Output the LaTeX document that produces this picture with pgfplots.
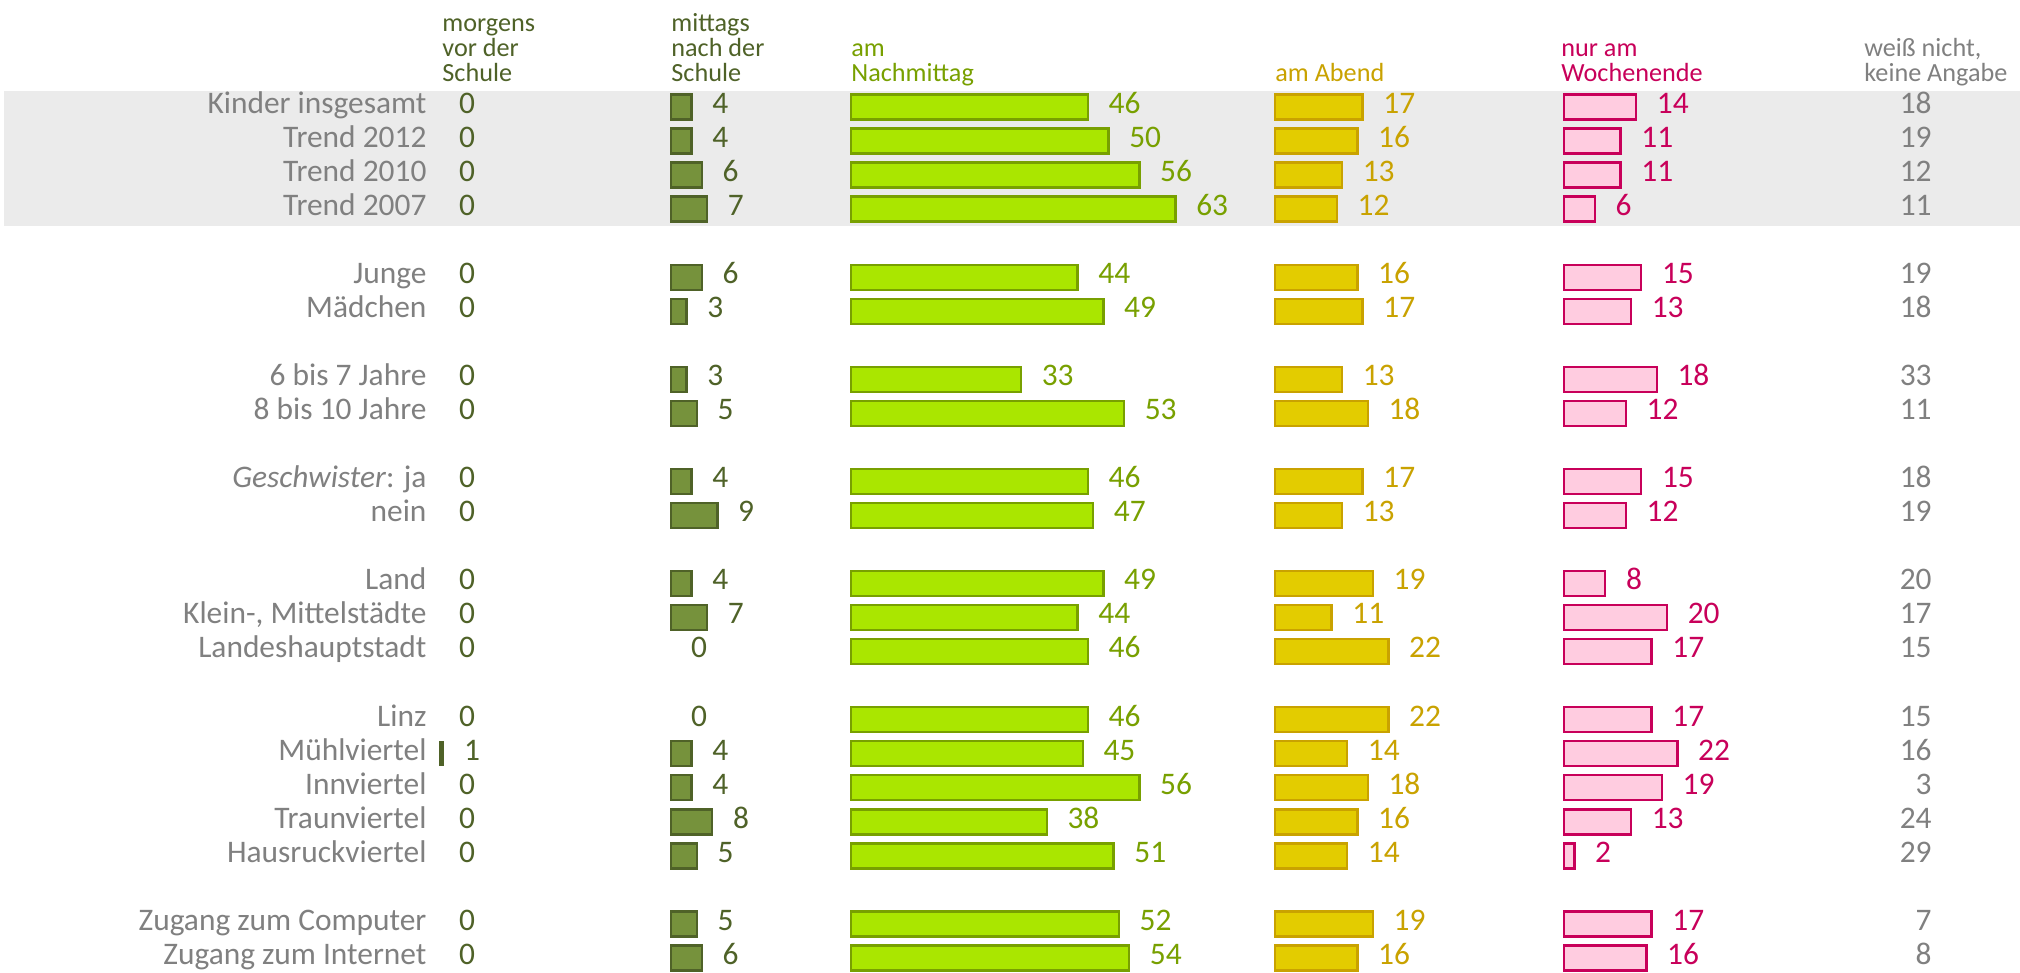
\documentclass[border=0pt]{standalone}
\usepackage{fontspec}
\setmainfont{Carlito}
\usepackage{pgfplots}
\usepackage{pgfplotstable}
\pgfplotsset{compat=1.18}

\definecolor{olivedark}{HTML}{4F6228}
\definecolor{olivemid}{HTML}{76923C}
\definecolor{limefill}{HTML}{AAE600}
\definecolor{limeline}{HTML}{78A000}
\definecolor{yellowfill}{HTML}{E3CC00}
\definecolor{yellowline}{HTML}{C9A200}
\definecolor{pinkfill}{HTML}{FFCCE0}
\definecolor{pinkline}{HTML}{C8005A}
\definecolor{labelgray}{HTML}{808080}
\definecolor{bandgray}{HTML}{EBEBEB}

% slot = row position (empty slots separate the groups)
\pgfplotstableread{
slot mo mi na ab wo wn
0  0 4 46 17 14 18
1  0 4 50 16 11 19
2  0 6 56 13 11 12
3  0 7 63 12  6 11
5  0 6 44 16 15 19
6  0 3 49 17 13 18
8  0 3 33 13 18 33
9  0 5 53 18 12 11
11 0 4 46 17 15 18
12 0 9 47 13 12 19
14 0 4 49 19  8 20
15 0 7 44 11 20 17
16 0 0 46 22 17 15
18 0 0 46 22 17 15
19 1 4 45 14 22 16
20 0 4 56 18 19  3
21 0 8 38 16 13 24
22 0 5 51 14  2 29
24 0 5 52 19 17  7
25 0 6 54 16 16  8
}\data

\newcommand{\txt}{\fontsize{15.7}{18}\selectfont}
\newcommand{\hdr}{\fontsize{13.1}{13}\selectfont}

\pgfplotsset{
  col/.style={
    scale only axis, width=25.75pt, height=442.5pt,
    xmin=0, xmax=10, ymin=-0.5, ymax=25.5, y dir=reverse,
    clip=false, axis line style={draw=none}, tick style={draw=none},
    xtick=\empty, ytick=\empty, anchor=north west,
    /pgf/number format/assume math mode=true,
  },
  barcol/.style={col, xbar, bar width=12.5pt, bar shift=0pt,
    nodes near coords,
    every node near coord/.append style={anchor=west, inner sep=0pt,
      xshift=9.8pt, font=\txt, text height=0.63em, text depth=0pt, text=#1},
  },
}
\tikzset{hd/.style={anchor=base west, inner sep=0pt, font=\hdr, text=#1}}

\begin{document}
\begin{tikzpicture}
\useasboundingbox (0,0) rectangle (1010pt,486.5pt);
\fill[white] (0,0) rectangle (1010pt,486.5pt);
\fill[bandgray] (2pt,373.5pt) rectangle (1010pt,441pt);

% morgens vor der Schule (with row labels)
\begin{axis}[barcol=olivedark, at={(219.5pt,441.5pt)},
  ytick={0,1,2,3,5,6,8,9,11,12,14,15,16,18,19,20,21,22,24,25},
  yticklabels={Kinder insgesamt, Trend 2012, Trend 2010, Trend 2007,
    Junge, Mädchen, 6 bis 7 Jahre, 8 bis 10 Jahre,
    {\textit{Geschwister}: ja}, nein,
    Land, {Klein-, Mittelstädte}, Landeshauptstadt,
    Linz, Mühlviertel, Innviertel, Traunviertel, Hausruckviertel,
    Zugang zum Computer, Zugang zum Internet},
  yticklabel style={anchor=east, inner sep=0pt, xshift=-1.8pt, font=\txt,
    text=labelgray, text height=0.63em, text depth=0pt}]
\addplot[fill=olivedark, draw=none, restrict x to domain=0.5:100]
  table[x=mo, y=slot]{\data};
\addplot[draw=none, fill=none, restrict x to domain=-0.5:0.5]
  table[x=mo, y=slot]{\data};
\end{axis}

% mittags nach der Schule
\begin{axis}[barcol=olivedark, at={(335.5pt,441.5pt)}]
\addplot[fill=olivemid, draw=olivedark, line width=1.2pt, restrict x to domain=0.5:100]
  table[x=mi, y=slot]{\data};
\addplot[draw=none, fill=none, restrict x to domain=-0.5:0.5]
  table[x=mi, y=slot]{\data};
\end{axis}

% am Nachmittag
\begin{axis}[barcol=limeline, at={(425.5pt,441.5pt)}]
\addplot[fill=limefill, draw=limeline, line width=1.2pt]
  table[x=na, y=slot]{\data};
\end{axis}

% am Abend
\begin{axis}[barcol=yellowline, at={(637.5pt,441.5pt)}]
\addplot[fill=yellowfill, draw=yellowline, line width=1.2pt]
  table[x=ab, y=slot]{\data};
\end{axis}

% nur am Wochenende
\begin{axis}[barcol=pinkline, at={(782pt,441.5pt)}]
\addplot[fill=pinkfill, draw=pinkline, line width=1.2pt]
  table[x=wo, y=slot]{\data};
\end{axis}

% weiss nicht, keine Angabe
\begin{axis}[col, at={(966pt,441.5pt)}]
\addplot[draw=none, nodes near coords, point meta=explicit,
  every node near coord/.append style={anchor=east, inner sep=0pt, font=\txt,
    text=labelgray, text height=0.63em, text depth=0pt}]
  table[x expr=0, y=slot, meta=wn]{\data};
\end{axis}

% column headers
\node[hd=olivedark] at (221pt,470.5pt) {morgens};
\node[hd=olivedark] at (221pt,458pt) {vor der};
\node[hd=olivedark] at (221pt,445.5pt) {Schule};
\node[hd=olivedark] at (335.5pt,470.5pt) {mittags};
\node[hd=olivedark] at (335.5pt,458pt) {nach der};
\node[hd=olivedark] at (335.5pt,445.5pt) {Schule};
\node[hd=limeline] at (425.5pt,458pt) {am};
\node[hd=limeline] at (425.5pt,445.5pt) {Nachmittag};
\node[hd=yellowline] at (637.5pt,445.5pt) {am Abend};
\node[hd=pinkline] at (780.5pt,458pt) {nur am};
\node[hd=pinkline] at (780.5pt,445.5pt) {Wochenende};
\node[hd=labelgray] at (932pt,458pt) {weiß nicht,};
\node[hd=labelgray] at (932pt,445.5pt) {keine Angabe};
\end{tikzpicture}
\end{document}
